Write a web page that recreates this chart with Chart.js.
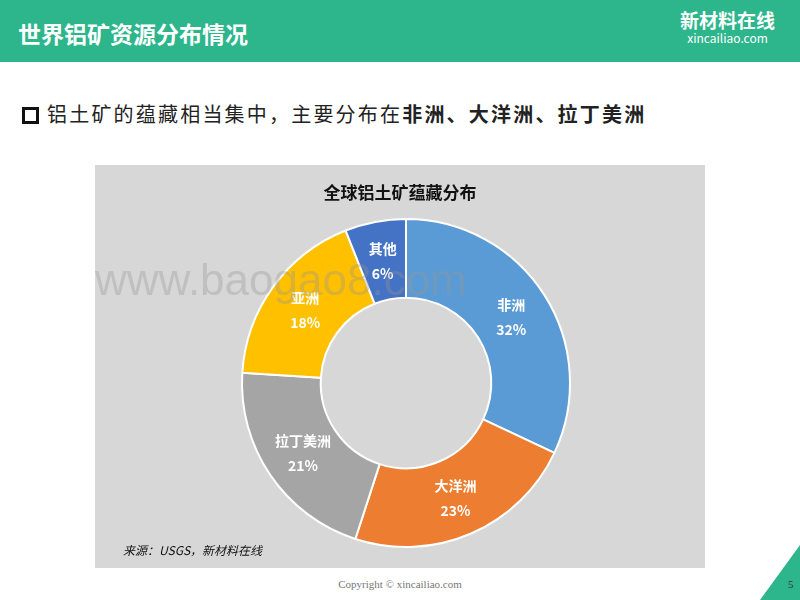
<!DOCTYPE html>
<html><head><meta charset="utf-8">
<script src="https://cdn.jsdelivr.net/npm/chart.js@4"></script>
<style>
body{margin:0;width:800px;height:600px;position:relative;background:#fff;font-family:"Noto Sans CJK SC","Noto Sans",sans-serif;overflow:hidden}
.hdr{position:absolute;left:0;top:0;width:800px;height:62px;background:#2db58c}
.ttl{position:absolute;left:18px;top:16px;color:#fff;font-size:23px;font-weight:bold}
.logo{position:absolute;left:680px;top:10px;color:#fff;text-align:center;line-height:1.1}
.sq{position:absolute;left:22px;top:107px;width:11px;height:11px;border:3px solid #111}
.bul{position:absolute;left:47px;top:99px;font-size:20px;letter-spacing:2.2px;color:#222}
.bul b{font-weight:bold}
.box{position:absolute;left:95px;top:165px;width:610px;height:403px;background:#d8d7d7}
.ct{position:absolute;left:0;width:610px;top:14px;text-align:center;font-weight:bold;font-size:17px;color:#111}
.src{position:absolute;left:28px;top:376px;font-style:italic;font-size:12px;color:#111}
.wm{position:absolute;left:95px;top:255px;font-family:"Liberation Sans";font-size:44px;color:rgba(150,150,150,.35)}
.cp{position:absolute;left:0;width:800px;top:578px;text-align:center;font-family:"Liberation Serif";font-size:11px;color:#777}
.pn{position:absolute;left:788px;top:578px;font-family:"Liberation Serif";font-size:11px;color:#333}
.tri{position:absolute;left:760px;top:545px;width:0;height:0;border-left:40px solid transparent;border-bottom:55px solid #2db58c}
</style></head><body>
<div class="hdr"></div>
<div class="ttl">世界铝矿资源分布情况</div>
<div class="logo"><div style="font-size:19px;font-weight:bold">新材料在线</div><div style="font-size:12px">xincailiao.com</div></div>
<div class="sq"></div>
<div class="bul">铝土矿的蕴藏相当集中，主要分布在<b>非洲、大洋洲、拉丁美洲</b></div>
<div class="box">
<div class="ct">全球铝土矿蕴藏分布</div>
<canvas id="c" width="610" height="403"></canvas>
<div class="src">来源：USGS，新材料在线</div>
</div>
<div class="wm">www.baogao8.com</div>
<div class="tri"></div>
<div class="cp">Copyright © xincailiao.com</div>
<div class="pn">5</div>
<script>
const regions = ['非洲', '大洋洲', '拉丁美洲', '亚洲', '其他'];
const shares = [32, 23, 21, 18, 6];
const colors = ['#5b9bd5', '#ed7d31', '#a5a5a5', '#ffc000', '#4472c4'];

const labelPlugin = {
  id: 'labels',
  afterDatasetsDraw(chart) {
    const ctx = chart.ctx;
    chart.getDatasetMeta(0).data.forEach((arc, i) => {
      const p = arc.tooltipPosition();
      ctx.save();
      ctx.fillStyle = '#fff';
      ctx.font = 'bold 14px "Noto Sans CJK SC"';
      ctx.textAlign = 'center';
      ctx.textBaseline = 'middle';
      ctx.fillText(regions[i], p.x, p.y - 12);
      ctx.fillText(shares[i] + '%', p.x, p.y + 13);
      ctx.restore();
    });
  }
};

new Chart(document.getElementById('c'), {
  type: 'doughnut',
  data: { labels: regions, datasets: [{ data: shares, backgroundColor: colors, borderColor: '#fff', borderWidth: 2 }] },
  options: {
    responsive: false, animation: false, cutout: '52%',
    layout: { padding: { top: 53, bottom: 20, left: 12 } },
    plugins: { legend: { display: false }, tooltip: { enabled: false } }
  },
  plugins: [labelPlugin]
});
</script>
</body></html>
